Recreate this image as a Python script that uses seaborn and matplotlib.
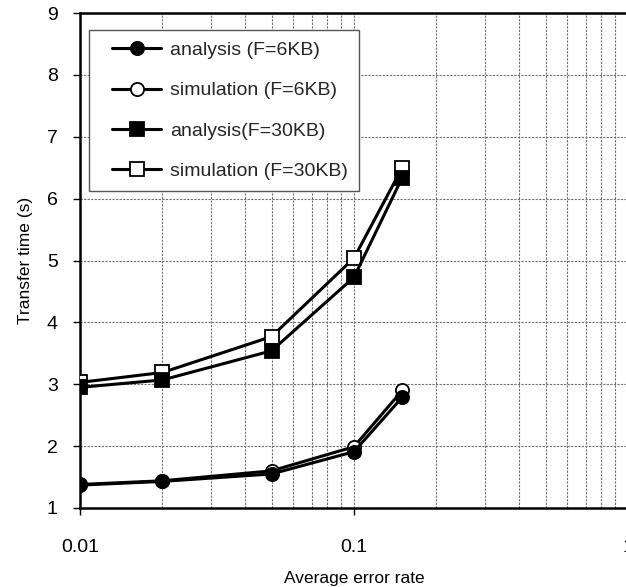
import numpy as np
import pandas as pd
import matplotlib
matplotlib.use("Agg")
import matplotlib.pyplot as plt
import seaborn as sns
from matplotlib.ticker import FixedLocator, NullFormatter, FixedFormatter
from matplotlib.legend_handler import HandlerLine2D
from matplotlib.lines import Line2D

error_rate = [0.01, 0.02, 0.05, 0.1, 0.15]
analysis_6kb = [1.37, 1.43, 1.55, 1.91, 2.79]
simulation_6kb = [1.38, 1.44, 1.60, 1.99, 2.90]
analysis_30kb = [2.95, 3.07, 3.54, 4.73, 6.34]
simulation_30kb = [3.03, 3.19, 3.77, 5.04, 6.50]

series_names = ["analysis (F=6KB)", "simulation (F=6KB)",
                "analysis(F=30KB)", "simulation (F=30KB)"]
series_values = [analysis_6kb, simulation_6kb, analysis_30kb, simulation_30kb]

x_ticks = [0.01, 0.1, 1]
x_tick_labels = ["0.01", "0.1", "1"]
y_ticks = [1, 2, 3, 4, 5, 6, 7, 8, 9]

sns.set_theme(style="white")
plt.rcParams["font.family"] = ["Liberation Sans", "DejaVu Sans"]

fig = plt.figure(figsize=(6.26, 5.87), dpi=100)
ax = fig.add_axes([80 / 626, 79 / 587, 548 / 626, 495 / 587])

styles = {
    "analysis (F=6KB)": dict(marker="o", mfc="black", ms=9.5),
    "simulation (F=6KB)": dict(marker="o", mfc="white", ms=9.5),
    "analysis(F=30KB)": dict(marker="s", mfc="black", ms=10),
    "simulation (F=30KB)": dict(marker="s", mfc="white", ms=10),
}

df = pd.DataFrame({
    "rate": np.tile(error_rate, len(series_names)),
    "time": np.concatenate(series_values),
    "series": np.repeat(series_names, len(error_rate)),
})

order_draw = ["simulation (F=6KB)", "analysis (F=6KB)",
              "simulation (F=30KB)", "analysis(F=30KB)"]
z = {n: i for i, n in enumerate(order_draw)}
for name in series_names:
    st = styles[name]
    sub = df[df["series"] == name]
    sns.lineplot(data=sub, x="rate", y="time", ax=ax, color="black",
                 linewidth=2.2, marker=st["marker"], markersize=st["ms"],
                 markerfacecolor=st["mfc"], markeredgecolor="black",
                 markeredgewidth=1.3, label=name, zorder=3 + z[name])

ax.set_xscale("log")
ax.set_xlim(0.01, 1)
ax.set_ylim(1, 9)
ax.xaxis.set_major_locator(FixedLocator(x_ticks))
ax.xaxis.set_major_formatter(FixedFormatter(x_tick_labels))
minor = [m * d for d in [0.01, 0.1] for m in range(2, 10)]
ax.xaxis.set_minor_locator(FixedLocator(minor))
ax.xaxis.set_minor_formatter(NullFormatter())
ax.set_yticks(y_ticks)

grid_kw = dict(color="#6f6f6f", linestyle=(0, (2, 1.2)), linewidth=0.8)
ax.grid(True, which="major", axis="both", **grid_kw)
ax.grid(True, which="minor", axis="x", **grid_kw)

for sp in ax.spines.values():
    sp.set_color("black")
    sp.set_linewidth(1.8)

ax.tick_params(axis="both", which="major", direction="out", length=5,
               width=1, color="black", labelsize=14, labelcolor="black",
               bottom=True, left=True)
ax.tick_params(axis="y", which="major", pad=11)
ax.tick_params(axis="x", which="major", pad=17)
ax.tick_params(axis="x", which="minor", bottom=False)

ax.set_xlabel("Average error rate", fontsize=12.5, color="black", labelpad=11)
ax.set_ylabel("Transfer time (s)", fontsize=12.5, color="black", labelpad=10)

handles, labels = ax.get_legend_handles_labels()
leg = ax.legend(handles, labels, loc="upper left",
                bbox_to_anchor=(9 / 548, 1 - 17 / 495),
                frameon=True, fancybox=False, fontsize=14,
                handlelength=3.1, labelspacing=1.16, borderpad=0.6,
                handletextpad=0.45, borderaxespad=0,
                handler_map={Line2D: HandlerLine2D(xpad=0.6)})
leg.get_frame().set_edgecolor("#555555")
leg.get_frame().set_linewidth(1.0)
leg.get_frame().set_facecolor("white")
leg.get_frame().set_alpha(1)

fig.savefig("out.png", dpi=100)
